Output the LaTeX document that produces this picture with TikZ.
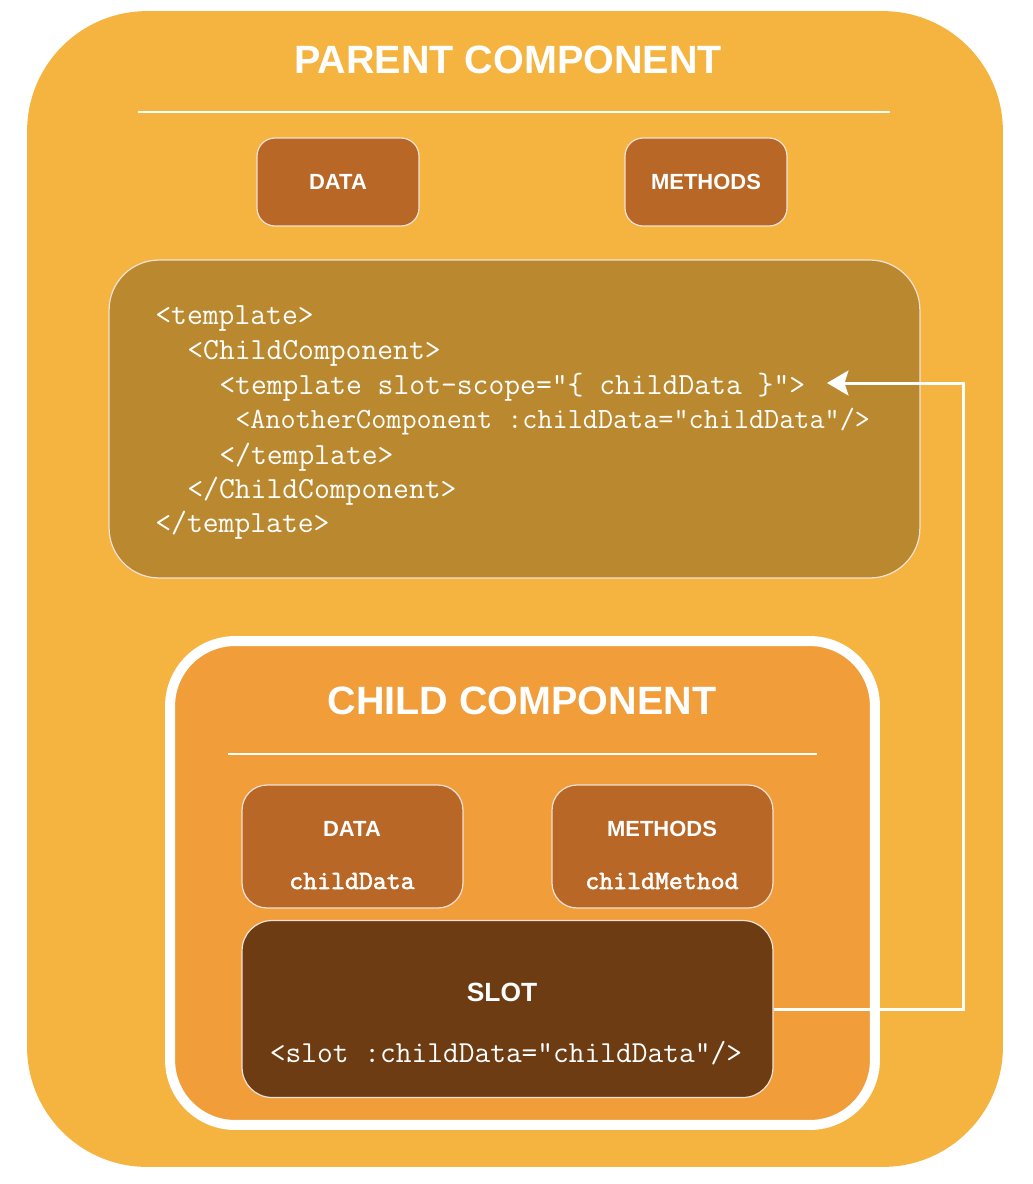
\documentclass[tikz,border=0pt]{standalone}
\usepackage{fontspec}
\setmainfont{Liberation Sans}
\newfontfamily\boldcodefont[FakeBold=2]{lmmono10-regular.otf}
\usetikzlibrary{arrows.meta}
\definecolor{parentbg}{HTML}{F5B340}
\definecolor{codebg}{HTML}{B9882F}
\definecolor{databg}{HTML}{B86726}
\definecolor{childbg}{HTML}{F09D3A}
\definecolor{slotbg}{HTML}{6E3C13}
\begin{document}
\begin{tikzpicture}[x=0.02cm,y=-0.02cm,
  every node/.style={inner sep=0pt,text=white},
  box/.style={draw=white!80!databg,line width=0.7pt,rounded corners=#1},
  box/.default=0.36cm,
  heading/.style={font=\bfseries\fontsize{22.5}{27}\selectfont},
  label/.style={font=\bfseries\fontsize{12.5}{15}\selectfont},
  code/.style={font=\ttfamily\fontsize{17.5}{20}\selectfont,anchor=west},
  boldcode/.style={font=\boldcodefont\fontsize{15.1}{18}\selectfont},
  rule/.style={draw=white,line width=1.2pt},
  link/.style={draw=white,line width=1.7pt,-{Stealth[length=0.43cm,width=0.5cm,inset=0.08cm]}}]
\useasboundingbox (0,0) rectangle (1032,1184);
\node[fill=parentbg,rounded corners=2.4cm,minimum width=19.52cm,minimum height=23.12cm] (parent) at (515,589) {};
\node[heading] (ptitle) at (508,60) {PARENT COMPONENT};
\draw[rule] (138,112) -- (890,112);
\node[box,fill=databg,minimum width=3.24cm,minimum height=1.76cm,label] (pdata) at (338,182) {DATA};
\node[box,fill=databg,minimum width=3.24cm,minimum height=1.76cm,label] (pmethods) at (706,182) {METHODS};
\node[box=1cm,fill=codebg,minimum width=16.22cm,minimum height=6.36cm] (tmpl) at (514.5,419) {};
\node[code] (c1) at (155,319) {<template>};
\node[code] (c2) at (187,353) {<ChildComponent>};
\node[code] (c3) at (219,387) {<template slot-scope="\{ childData \}">};
\node[code,font=\ttfamily\fontsize{16.7}{20}\selectfont] (c4) at (235,422) {<AnotherComponent :childData="childData"/>};
\node[code] (c5) at (219,457) {</template>};
\node[code] (c6) at (187,491) {</ChildComponent>};
\node[code] (c7) at (155,525) {</template>};
\node[draw=white,line width=5.7pt,fill=childbg,rounded corners=1.3cm,minimum width=14.1cm,minimum height=9.68cm] (child) at (522.5,883) {};
\node[heading] (ctitle) at (522,701) {CHILD COMPONENT};
\draw[rule] (228,754) -- (817,754);
\node[box=0.5cm,fill=databg,minimum width=4.42cm,minimum height=2.46cm] (cdata) at (352.5,846.5) {};
\node[box=0.5cm,fill=databg,minimum width=4.42cm,minimum height=2.46cm] (cmethods) at (662.5,846.5) {};
\node[label] at (352,829) {DATA};
\node[boldcode] at (352,881) {childData};
\node[label] at (662,829) {METHODS};
\node[boldcode] at (662,881) {childMethod};
\node[box=0.6cm,fill=slotbg,minimum width=10.62cm,minimum height=3.54cm] (slot) at (507.5,1009) {};
\node[font=\bfseries\fontsize{15}{18}\selectfont] (slotname) at (502,992) {SLOT};
\node[code,anchor=center,font=\ttfamily\fontsize{17.4}{20}\selectfont] (slotcode) at (506,1053) {<slot :childData="childData"/>};
\coordinate (turn) at (963,383);
\coordinate (tip) at (827,383);
\draw[link] (slot.east) -| (turn) -- (tip);
\end{tikzpicture}
\end{document}
